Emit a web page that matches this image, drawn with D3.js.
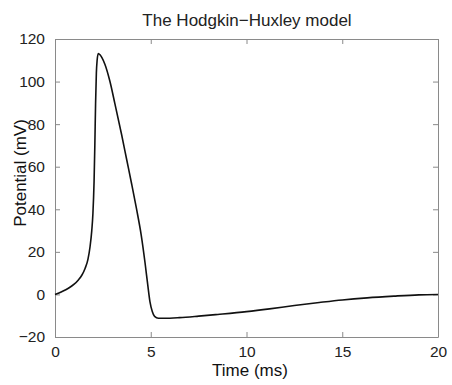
<!DOCTYPE html>
<html>
<head>
<meta charset="utf-8">
<script src="https://cdn.jsdelivr.net/npm/d3@7"></script>
<style>
  html, body { margin: 0; padding: 0; background: #fff; }
  svg { display: block; font-family: "Liberation Sans", Arial, Helvetica, sans-serif; }
</style>
</head>
<body>
<svg id="chart" width="452" height="385"></svg>
<script>
const timeMs = [0, 0.35, 0.7, 1.0, 1.22, 1.4, 1.57, 1.72, 1.83, 1.92, 1.98, 2.04, 2.08, 2.12, 2.16, 2.2, 2.26, 2.35, 2.45, 2.61, 2.87, 3.13, 3.48, 3.74, 4.0, 4.25, 4.5, 4.7, 4.85, 4.96, 5.08, 5.2, 5.4, 5.7, 6.5, 7.5, 8.5, 10, 11.2, 12.5, 13.8, 15, 16.3, 17.7, 19, 20];
const potential = [0, 1.3, 2.9, 4.8, 6.8, 9.0, 12.2, 16.5, 22.4, 30, 38, 53, 70, 90, 104, 110, 113.2, 112.6, 111.2, 108, 100, 89.5, 75, 63.5, 52, 40.5, 28, 15, 4, -3.5, -8, -10.3, -11.2, -11.2, -10.9, -10.2, -9.4, -8.1, -6.8, -5.2, -3.8, -2.6, -1.6, -0.8, -0.2, 0];
const xTicks = [0, 5, 10, 15, 20];
const yTicks = [-20, 0, 20, 40, 60, 80, 100, 120];
const titleText = "The Hodgkin\u2212Huxley model";
const xLabel = "Time (ms)";
const yLabel = "Potential (mV)";

const svg = d3.select("#chart");
const mLeft = 55, mRight = 438, mTop = 39, mBottom = 337;
const x = d3.scaleLinear().domain([0, 20]).range([mLeft, mRight]);
const y = d3.scaleLinear().domain([-20, 120]).range([mBottom, mTop]);
const axisColor = "#8a8a8a";
const tickLen = 5;

const fmt = d => d < 0 ? "\u2212" + Math.abs(d) : String(d);

const gB = svg.append("g").attr("transform", `translate(0,${mBottom})`)
  .call(d3.axisBottom(x).tickValues(xTicks).tickSizeInner(-tickLen).tickSizeOuter(0).tickPadding(9).tickFormat(fmt));
const gT = svg.append("g").attr("transform", `translate(0,${mTop})`)
  .call(d3.axisTop(x).tickValues(xTicks).tickSizeInner(-tickLen).tickSizeOuter(0).tickFormat(""));
const gL = svg.append("g").attr("transform", `translate(${mLeft},0)`)
  .call(d3.axisLeft(y).tickValues(yTicks).tickSizeInner(-tickLen).tickSizeOuter(0).tickPadding(10).tickFormat(fmt));
const gR = svg.append("g").attr("transform", `translate(${mRight},0)`)
  .call(d3.axisRight(y).tickValues(yTicks).tickSizeInner(-tickLen).tickSizeOuter(0).tickFormat(""));

[gB, gT, gL, gR].forEach(g => {
  g.select(".domain").attr("stroke", axisColor).attr("stroke-width", 1);
  g.selectAll(".tick line").attr("stroke", axisColor).attr("stroke-width", 1);
  g.selectAll(".tick text").attr("fill", "#222").style("font-size", "15.5px").style("font-family", "Liberation Sans, Arial, sans-serif");
});

const line = d3.line().x((d, i) => x(timeMs[i])).y(d => y(d)).curve(d3.curveMonotoneX);
svg.append("path").datum(potential)
  .attr("d", line).attr("fill", "none").attr("stroke", "#111").attr("stroke-width", 1.6)
  .attr("stroke-linejoin", "round");

svg.append("text").attr("x", 247).attr("y", 26).attr("text-anchor", "middle")
  .style("font-size", "17px").attr("fill", "#222").text(titleText);
svg.append("text").attr("x", 250).attr("y", 376).attr("text-anchor", "middle")
  .style("font-size", "17px").attr("fill", "#111").text(xLabel);
svg.append("text").attr("transform", "translate(26,173) rotate(-90)").attr("text-anchor", "middle")
  .style("font-size", "17px").attr("fill", "#111").text(yLabel);
</script>
</body>
</html>
